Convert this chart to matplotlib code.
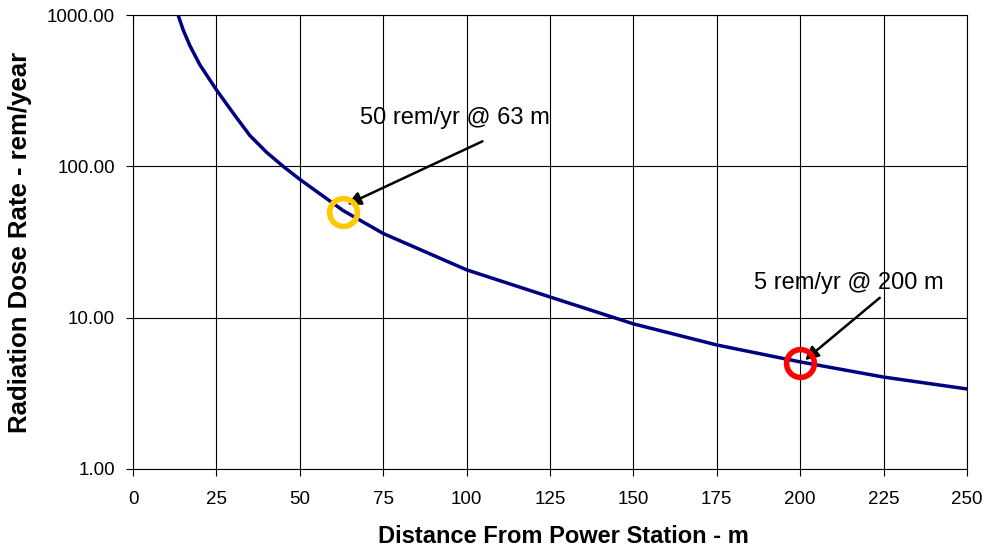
import matplotlib.pyplot as plt
from matplotlib.ticker import FixedLocator, FuncFormatter, NullLocator

plt.rcParams['font.family'] = ['Liberation Sans', 'DejaVu Sans']

# values
distance = [13.5, 15, 17, 20, 25, 30, 35, 40, 45, 50, 63, 75, 100, 125, 150, 175, 200, 225, 250]
dose = [1000, 800, 630, 470, 320, 225, 160, 124, 100, 82, 51, 36, 20.7, 13.7, 9.1, 6.6, 5.1, 4.05, 3.38]

marks_x = [63, 200]
marks_y = [50, 5]
marks_col = ['#FFC800', '#FF0000']
labels = ['50 rem/yr @ 63 m', '5 rem/yr @ 200 m']

fig = plt.figure(figsize=(9.87, 5.52), dpi=100)
ax = fig.add_axes([0.1348, 0.1504, 0.8449, 0.8224])

ax.plot(distance, dose, color='#000080', lw=2.5, zorder=3)
for x, y, c in zip(marks_x, marks_y, marks_col):
    ax.plot(x, y, 'o', ms=20, mfc='none', mec=c, mew=4, zorder=4)

ax.set_yscale('log')
ax.set_xlim(0, 250)
ax.set_ylim(1, 1000)
ax.xaxis.set_major_locator(FixedLocator(range(0, 251, 25)))
ax.yaxis.set_major_locator(FixedLocator([1, 10, 100, 1000]))
ax.yaxis.set_minor_locator(NullLocator())
ax.yaxis.set_major_formatter(FuncFormatter(lambda v, p: '%.2f' % v))
ax.grid(True, color='black', lw=0.8)
for s in ax.spines.values():
    s.set_linewidth(0.8)
ax.tick_params(labelsize=13.5, length=5, width=0.8)
ax.tick_params(axis='x', pad=11)
ax.tick_params(axis='y', pad=8)

ax.set_xlabel('Distance From Power Station - m', fontsize=17, fontweight='bold')
ax.set_ylabel('Radiation Dose Rate - rem/year', fontsize=18.5, fontweight='bold')
ax.xaxis.set_label_coords(0.516, -0.123)
ax.yaxis.set_label_coords(-0.121, 0.5)

# annotations: text + arrow
ax.text(96.5, 210, labels[0], fontsize=17, ha='center', va='center')
ax.annotate('', xy=(63.5, 55), xytext=(105.5, 149),
            arrowprops=dict(arrowstyle='-|>', color='black', lw=1.8, mutation_scale=20))
ax.text(214.5, 17, labels[1], fontsize=17, ha='center', va='center')
ax.annotate('', xy=(200.8, 5.1), xytext=(224.5, 13.9),
            arrowprops=dict(arrowstyle='-|>', color='black', lw=1.8, mutation_scale=20))

fig.savefig('out.png', dpi=100)
